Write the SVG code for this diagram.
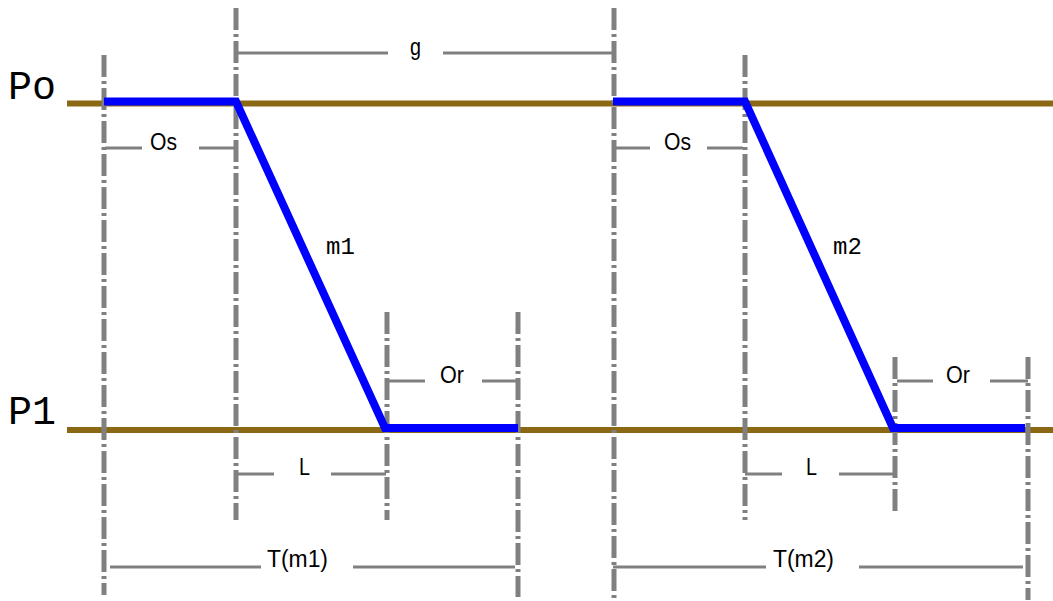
<svg xmlns="http://www.w3.org/2000/svg" width="1053" height="601" viewBox="0 0 1053 601">
<style>
.lvl{stroke:#8B6914;stroke-width:6;fill:none}
.sig{stroke:#0000FF;stroke-width:8;fill:none;stroke-linejoin:miter}
.ext{stroke:#808080;stroke-width:5;fill:none;stroke-dasharray:22 4 3 4}
.dim{stroke:#808080;stroke-width:3;fill:none}
.big{font-family:"Liberation Mono","Courier New",monospace;font-size:40px;fill:#000}
.mono{font-family:"Liberation Mono","Courier New",monospace;font-size:24px;fill:#000}
.lbl{font-family:"Liberation Sans",Arial,sans-serif;font-size:23px;fill:#000}
</style>
<rect width="1053" height="601" fill="#fff"/>
<g id="levels">
<line class="lvl" x1="67" y1="103.5" x2="1053" y2="103.5"/>
<line class="lvl" x1="67" y1="430" x2="1053" y2="430"/>
<text class="big" x="8" y="99">Po</text>
<text class="big" x="8" y="424">P1</text>
</g>
<g id="extension-lines">
<line class="ext" x1="104" y1="55" x2="104" y2="595"/>
<line class="ext" x1="236" y1="8" x2="236" y2="520"/>
<line class="ext" x1="387" y1="312" x2="387" y2="520"/>
<line class="ext" x1="518" y1="312" x2="518" y2="597"/>
<line class="ext" x1="614" y1="8" x2="614" y2="600"/>
<line class="ext" x1="745" y1="55" x2="745" y2="520"/>
<line class="ext" x1="895" y1="357" x2="895" y2="513"/>
<line class="ext" x1="1028" y1="357" x2="1028" y2="600"/>
</g>
<g id="signal-1">
<polyline class="sig" points="104,101.5 236,101.5 385,428 518,428"/>
<text class="mono" x="326" y="254">m1</text>
</g>
<g id="signal-2">
<polyline class="sig" points="613,101.5 745,101.5 893,428 1025,428"/>
<text class="mono" x="833" y="254">m2</text>
</g>
<g id="dimensions">
<path class="dim" d="M236,53H388M443,53H613"/>
<text class="lbl" x="410" y="55" textLength="11" lengthAdjust="spacingAndGlyphs">g</text>
<path class="dim" d="M105,148H142M199,148H234"/>
<text class="lbl" x="150" y="150" textLength="27" lengthAdjust="spacingAndGlyphs">Os</text>
<path class="dim" d="M615,148H650M707,148H743"/>
<text class="lbl" x="664" y="150" textLength="27" lengthAdjust="spacingAndGlyphs">Os</text>
<path class="dim" d="M388,381H425M482,381H517"/>
<text class="lbl" x="440" y="383" textLength="24" lengthAdjust="spacingAndGlyphs">Or</text>
<path class="dim" d="M897,381H933M990,381H1028"/>
<text class="lbl" x="946" y="383" textLength="24" lengthAdjust="spacingAndGlyphs">Or</text>
<path class="dim" d="M238,474H274M331,474H386"/>
<text class="lbl" x="299" y="475" textLength="11" lengthAdjust="spacingAndGlyphs">L</text>
<path class="dim" d="M745,474H782M839,474H894"/>
<text class="lbl" x="806" y="475" textLength="11" lengthAdjust="spacingAndGlyphs">L</text>
<path class="dim" d="M110,567H261M353,567H515"/>
<text class="lbl" x="267" y="567" textLength="61" lengthAdjust="spacingAndGlyphs">T(m1)</text>
<path class="dim" d="M613,567H766M859,567H1023"/>
<text class="lbl" x="773" y="567" textLength="61" lengthAdjust="spacingAndGlyphs">T(m2)</text>
</g>
</svg>
